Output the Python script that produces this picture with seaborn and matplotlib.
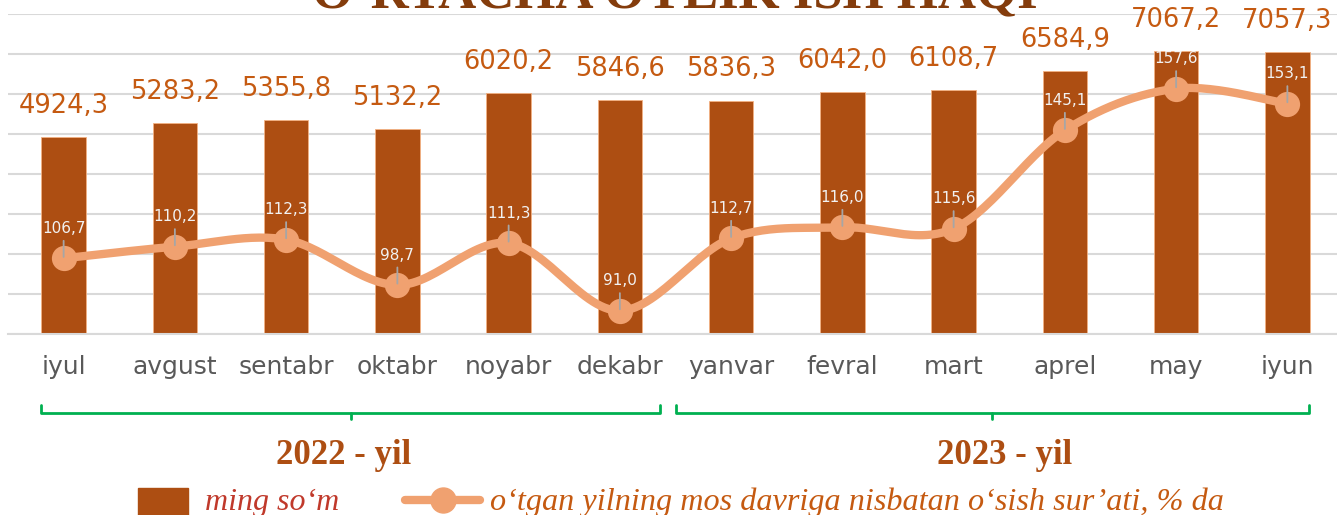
import numpy as np
import pandas as pd
import seaborn as sns
import matplotlib.pyplot as plt
from matplotlib.lines import Line2D
from matplotlib.patches import Rectangle
from matplotlib.transforms import blended_transform_factory

months = ['iyul', 'avgust', 'sentabr', 'oktabr', 'noyabr', 'dekabr',
          'yanvar', 'fevral', 'mart', 'aprel', 'may', 'iyun']
wage = [4924.3, 5283.2, 5355.8, 5132.2, 6020.2, 5846.6,
        5836.3, 6042.0, 6108.7, 6584.9, 7067.2, 7057.3]
growth = [106.7, 110.2, 112.3, 98.7, 111.3, 91.0,
          112.7, 116.0, 115.6, 145.1, 157.6, 153.1]
years = ['2022 - yil', '2023 - yil']
title = 'O‘RTACHA OYLIK ISH HAQI'
legend_bar = 'ming so‘m'
legend_line = 'o‘tgan yilning mos davriga nisbatan o‘sish sur’ati, % da'

BAR = '#AD4E12'
LINE = '#F0A170'
LABEL = '#C55A11'
GRID = '#D9D9D9'
GREEN = '#00B050'


def fmt(v):
    return f'{v:.1f}'.replace('.', ',')


def smooth(xs, ys, n=30):
    '''Catmull-Rom style smoothing like the office "smoothed line"'''
    p = np.column_stack([xs, ys]).astype(float)
    p = np.vstack([p[0], p, p[-1]])
    out = []
    t = np.linspace(0, 1, n)[:, None]
    for i in range(1, len(p) - 2):
        p0, p1, p2, p3 = p[i - 1], p[i], p[i + 1], p[i + 2]
        c1 = p1 + (p2 - p0) / 6
        c2 = p2 - (p3 - p1) / 6
        seg = ((1 - t) ** 3) * p1 + 3 * ((1 - t) ** 2) * t * c1 + 3 * (1 - t) * t ** 2 * c2 + t ** 3 * p2
        out.append(seg if i == 1 else seg[1:])
    out = np.vstack(out)
    return out[:, 0], out[:, 1]


sns.set_style('white')
plt.rcParams['font.family'] = ['DejaVu Sans']

fig = plt.figure(figsize=(13.37, 5.15), dpi=100)
ax = fig.add_axes([8 / 1337, 1 - 334 / 515, 1335 / 1337, 320 / 515])

df = pd.DataFrame({'month': months, 'wage': wage, 'growth': growth})
sns.barplot(data=df, x='month', y='wage', ax=ax, color=BAR, saturation=1,
            width=0.4, edgecolor='#F4B183', linewidth=0.6, zorder=2)
ax.bar_label(ax.containers[0], labels=[fmt(v) for v in wage], padding=13,
             color=LABEL, fontsize=18.5)

ax.set_xlim(-0.5, 11.5)
ax.set_ylim(0, 8000)
ax.set_yticks(np.arange(0, 8001, 1000))
ax.yaxis.grid(True, color=GRID, linewidth=1.5)
ax.set_axisbelow(True)
for s in ['top', 'right', 'left']:
    ax.spines[s].set_visible(False)
ax.spines['bottom'].set_color(GRID)
ax.spines['bottom'].set_linewidth(1.5)
ax.tick_params(axis='y', which='both', left=False, right=False, length=0,
               labelleft=False)
ax.tick_params(axis='x', which='major', length=0, pad=15, labelsize=18, labelcolor='#595959')
ax.set_xticks(np.arange(-0.5, 12, 1), minor=True)
ax.tick_params(axis='x', which='minor', length=6, width=1.5, color=GRID)
ax.set_xlabel('')
ax.set_ylabel('')

ax2 = ax.twinx()
ax2.set_ylim(84, 180)
ax2.axis('off')
sx, sy = smooth(np.arange(len(growth)), growth)
sns.lineplot(x=sx, y=sy, ax=ax2, color=LINE, linewidth=6, sort=False,
             solid_capstyle='round')
sns.scatterplot(x=np.arange(len(growth)), y=growth, ax=ax2, color=LINE,
                s=330, linewidth=0, zorder=3)
for i, v in enumerate(growth):
    ax2.annotate(fmt(v), xy=(i, v), xytext=(0, 16), textcoords='offset points',
                 ha='center', va='bottom', color='#F2F2F2', fontsize=11,
                 arrowprops=dict(arrowstyle='-', color='#A6A6A6', lw=1.3,
                                 shrinkA=1, shrinkB=1))

# year brackets under the axis
tr = blended_transform_factory(ax.transData, fig.transFigure)
yb = 1 - 413 / 515
ye = 1 - 405 / 515
yc = 1 - 419 / 515
for (a, b), name, xt in zip([(-0.2, 5.36), (5.5, 11.19)], years, [2.52, 8.46]):
    m = (a + b) / 2
    ax.add_line(Line2D([a, a, b, b], [ye, yb, yb, ye], transform=tr, color=GREEN,
                       lw=2, clip_on=False))
    ax.add_line(Line2D([m, m], [yb, yc], transform=tr, color=GREEN, lw=2, clip_on=False))
    ax.text(xt, 1 - 455 / 515, name, transform=tr, ha='center', va='center',
            family='Liberation Serif', fontweight='bold', fontsize=25, color=BAR)

# title, mostly cut off by the top edge
fig.text(0.505, 1 - 7 / 515, title, ha='center', va='baseline',
         family='Liberation Serif', fontweight='bold', fontsize=38, color='#843C0C')

# legend at the bottom
fig.patches.append(Rectangle((138 / 1337, 0), 50 / 1337, 27 / 515,
                             transform=fig.transFigure, color=BAR))
fig.text(205 / 1337, 1 - 510 / 515, legend_bar, family='Liberation Serif',
         style='italic', fontsize=23, color='#C0392B', va='baseline')
fig.lines.append(Line2D([405 / 1337, 480 / 1337], [1 - 500 / 515] * 2,
                        transform=fig.transFigure, color=LINE, lw=6,
                        solid_capstyle='round'))
fig.lines.append(Line2D([443 / 1337], [1 - 500 / 515], transform=fig.transFigure,
                        color=LINE, marker='o', markersize=18, linestyle='none'))
fig.text(490 / 1337, 1 - 510 / 515, legend_line, family='Liberation Serif',
         style='italic', fontsize=23.2, color=LABEL, va='baseline')

fig.savefig('out.png', dpi=100)
